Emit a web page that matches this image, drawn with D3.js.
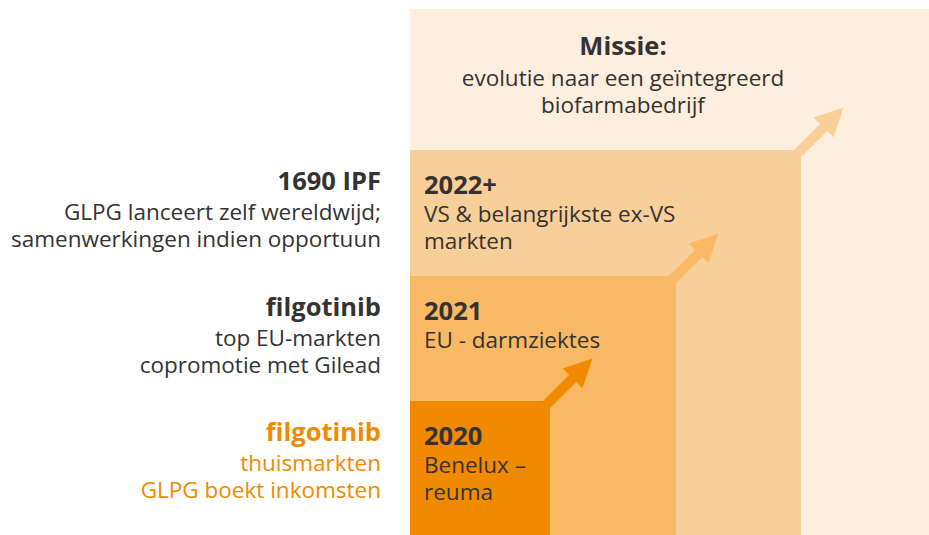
<!DOCTYPE html>
<html>
<head>
<meta charset="utf-8">
<script src="https://cdn.jsdelivr.net/npm/d3@7"></script>
<style>
  html, body { margin: 0; padding: 0; background: #fff; }
  text { font-family: "Open Sans", sans-serif; }
</style>
</head>
<body>
<div id="container"></div>
<script>
const width = 929;
const height = 535;

// levels, from the first step up to the mission block
const stageYears = ["2020", "2021", "2022+"];
const stageDescriptions = [
  ["Benelux –", "reuma"],
  ["EU - darmziektes"],
  ["VS & belangrijkste ex-VS", "markten"]
];
const leftTitles = ["filgotinib", "filgotinib", "1690 IPF"];
const leftLines = [
  ["thuismarkten", "GLPG boekt inkomsten"],
  ["top EU-markten", "copromotie met Gilead"],
  ["GLPG lanceert zelf wereldwijd;", "samenwerkingen indien opportuun"]
];
const missionTitle = "Missie:";
const missionLines = ["evolutie naar een geïntegreerd", "biofarmabedrijf"];
const levelColors = ["#f28a00", "#f8b864", "#f9cf99", "#fdeedd"];

const regularSize = 22.5;
const boldSize = 25.5;
const textColor = "#333333";

// step index -> position
const x = d3.scaleLinear().domain([0, 1, 2, 3, 4]).range([410, 550, 676, 801, 929]);
const y = d3.scaleLinear().domain([0, 1, 2, 3, 4]).range([535, 401, 276, 150, 9]);

const svg = d3.select("#container")
  .append("svg")
  .attr("width", width)
  .attr("height", height)
  .attr("viewBox", [0, 0, width, height]);

const arrowLen = 60, headLen = 28, headHalf = 14, shaftW = 10;

function arrowHead(cx, cy) {
  const u = [Math.SQRT1_2, -Math.SQRT1_2];   // 45° up-right
  const n = [Math.SQRT1_2, Math.SQRT1_2];
  const tip = [cx + u[0] * arrowLen, cy + u[1] * arrowLen];
  const base = [tip[0] - u[0] * headLen, tip[1] - u[1] * headLen];
  return [tip,
    [base[0] + n[0] * headHalf, base[1] + n[1] * headHalf],
    [base[0] - n[0] * headHalf, base[1] - n[1] * headHalf]];
}

// draw largest block first, each followed by its arrow
d3.range(4, 0, -1).forEach(k => {
  const color = levelColors[k - 1];
  svg.append("rect")
    .attr("x", x(0))
    .attr("y", y(k))
    .attr("width", x(k) - x(0))
    .attr("height", y(0) - y(k))
    .attr("fill", color);

  if (k < 4) {
    const cx = x(k), cy = y(k);
    const head = arrowHead(cx, cy);
    const u = Math.SQRT1_2;
    svg.append("line")
      .attr("x1", cx - u * 12).attr("y1", cy + u * 12)
      .attr("x2", cx + u * (arrowLen - headLen + 1)).attr("y2", cy - u * (arrowLen - headLen + 1))
      .attr("stroke", color)
      .attr("stroke-width", shaftW);
    svg.append("path")
      .attr("d", d3.line()(head) + "Z")
      .attr("fill", color);
  }
});

// texts inside the steps
stageYears.forEach((yr, i) => {
  const k = i + 1;
  const g = svg.append("g").attr("transform", `translate(${x(0) + 14},${y(k) + 44})`);
  g.append("text")
    .attr("font-size", boldSize)
    .attr("font-weight", 700)
    .attr("fill", textColor)
    .text(yr);
  stageDescriptions[i].forEach((line, j) => {
    g.append("text")
      .attr("y", 28 + j * 27)
      .attr("font-size", regularSize)
      .attr("fill", textColor)
      .text(line);
  });
});

// texts on the left
leftTitles.forEach((title, i) => {
  const k = i + 1;
  const color = i === 0 ? levelColors[0] : textColor;
  const g = svg.append("g").attr("transform", `translate(381,${y(k) + 40})`)
    .attr("text-anchor", "end")
    .attr("fill", color);
  g.append("text")
    .attr("font-size", boldSize)
    .attr("font-weight", 700)
    .text(title);
  leftLines[i].forEach((line, j) => {
    g.append("text")
      .attr("y", 30 + j * 27)
      .attr("font-size", regularSize)
      .text(line);
  });
});

// mission
const mg = svg.append("g").attr("transform", `translate(623,${y(4) + 46})`)
  .attr("text-anchor", "middle")
  .attr("fill", textColor);
mg.append("text")
  .attr("font-size", boldSize)
  .attr("font-weight", 700)
  .text(missionTitle);
missionLines.forEach((line, j) => {
  mg.append("text")
    .attr("y", 31 + j * 27)
    .attr("font-size", regularSize)
    .text(line);
});
</script>
</body>
</html>
